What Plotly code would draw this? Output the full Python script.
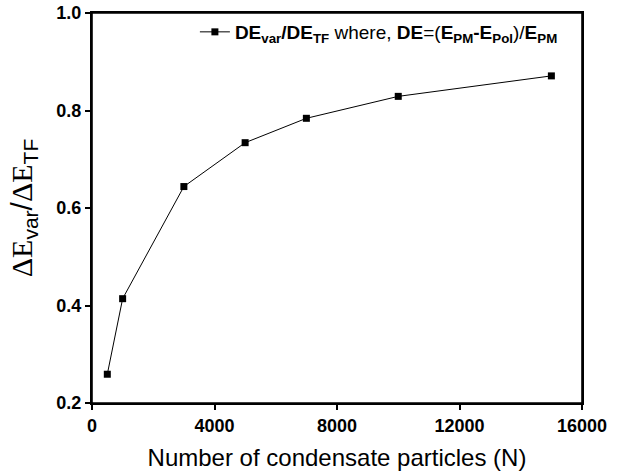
import plotly.graph_objects as go

n_particles = [500, 1000, 3000, 5000, 7000, 10000, 15000]
ratio = [0.259, 0.414, 0.644, 0.734, 0.784, 0.829, 0.871]

x_ticks = [0, 4000, 8000, 12000, 16000]
x_tick_labels = ["0", "4000", "8000", "12000", "16000"]
y_ticks = [0.2, 0.4, 0.6, 0.8, 1.0]
y_tick_labels = ["0.2", "0.4", "0.6", "0.8", "1.0"]

legend_name = ("<b>DE<sub>var</sub>/DE<sub>TF</sub></b> where, <b>DE</b>=(<b>E<sub>PM</sub>-E<sub>Pol</sub></b>)/"
               "<b>E<sub>PM</sub></b>")
x_title = "Number of condensate particles (N)"
y_title = ('<span style="font-family:Liberation Serif">ΔE</span><sub>var</sub>/'
           '<span style="font-family:Liberation Serif">ΔE</span><sub>TF</sub>')

fig = go.Figure()
fig.add_trace(go.Scatter(
    x=n_particles, y=ratio, mode="lines+markers", name=legend_name,
    line=dict(color="black", width=1),
    marker=dict(symbol="square", size=7, color="black"),
))

sans = "Liberation Sans"
fig.update_layout(
    width=634, height=475,
    margin=dict(l=92, r=52, t=13, b=72, autoexpand=False),
    paper_bgcolor="white", plot_bgcolor="white",
    font=dict(family=sans, color="black"),
    showlegend=True,
    shapes=[dict(type="rect", xref="paper", yref="paper", x0=0, x1=1, y0=0, y1=1,
                 line=dict(color="black", width=1.6), fillcolor="rgba(0,0,0,0)", layer="above")],
    legend=dict(x=0.21, y=1.0, xanchor="left", yanchor="top",
                bgcolor="rgba(0,0,0,0)", font=dict(size=19, family=sans),
                itemwidth=30),
    xaxis=dict(range=[0, 16000], tickmode="array", tickvals=x_ticks,
               ticktext=["<b>%s</b>" % t for t in x_tick_labels], automargin=False,
               ticklabeloverflow="allow",
               ticks="outside", ticklen=5, tickwidth=2, tickcolor="black",
               showline=True, linewidth=2, linecolor="black", mirror=True,
               showgrid=False, zeroline=False,
               tickfont=dict(size=18, family="Arial", weight=700),
               title=dict(text=x_title, font=dict(size=24, family=sans))),
    yaxis=dict(range=[0.2, 1.0], tickmode="array", tickvals=y_ticks,
               ticktext=["<b>%s</b>" % t for t in y_tick_labels], automargin=False,
               ticklabeloverflow="allow",
               ticks="outside", ticklen=5, tickwidth=2, tickcolor="black",
               showline=True, linewidth=2, linecolor="black", mirror=True,
               showgrid=False, zeroline=False,
               tickfont=dict(size=18, family="Arial", weight=700),
               title=dict(text=y_title, font=dict(size=30, family=sans))),
)

fig.write_html("out.html", config={"displayModeBar": False},
               post_script="document.body.style.margin='0';")
